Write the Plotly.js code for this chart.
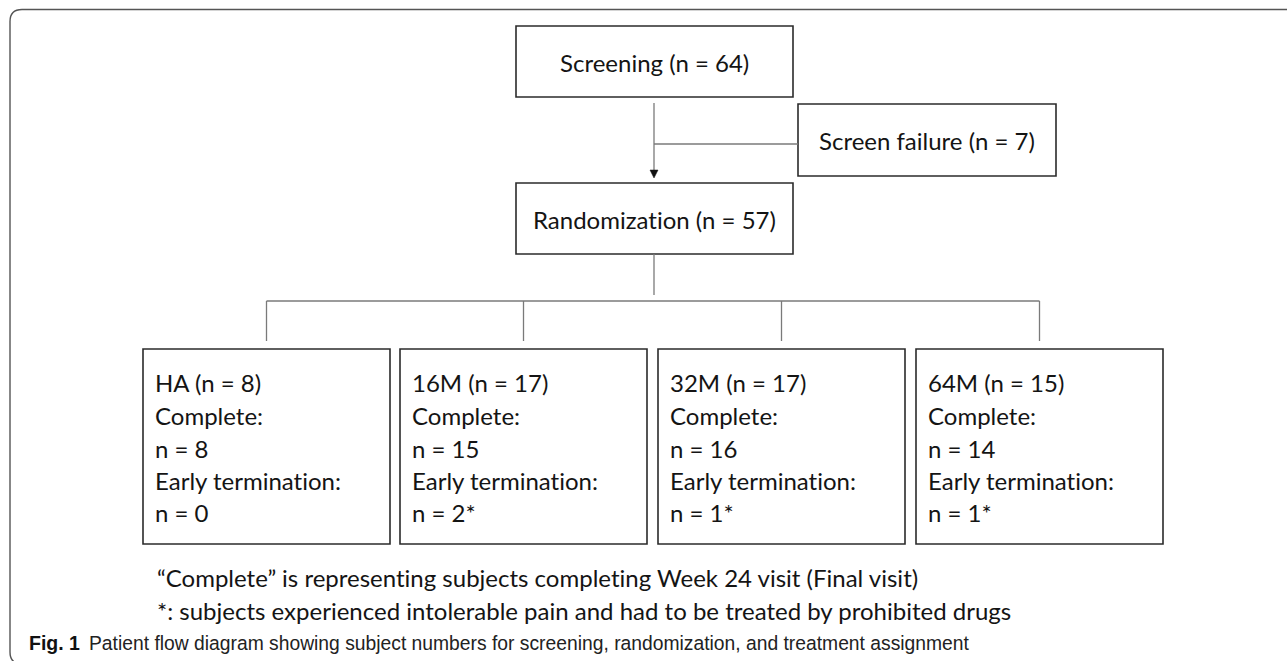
<!DOCTYPE html>
<html>
<head>
<meta charset="utf-8">
<script src="https://cdn.plot.ly/plotly-3.0.1.min.js"></script>
<style>
html,body{margin:0;padding:0;background:#fff;}
#chart{width:1287px;height:661px;}
svg text, svg tspan{font-variant-ligatures:none !important;font-feature-settings:"liga" 0, "clig" 0, "dlig" 0 !important;}
</style>
</head>
<body>
<div id="chart"></div>
<script>
// ---- data ----
const screeningN = 64;
const screenFailureN = 7;
const randomizationN = 57;
const groups = ["HA", "16M", "32M", "64M"];
const groupN = [8, 17, 17, 15];
const completeN = [8, 15, 16, 14];
const earlyN = [0, 2, 1, 1];
const earlyMark = ["", "*", "*", "*"];
const noteLines = [
  "\u201CComplete\u201D is representing subjects completing Week 24 visit (Final visit)",
  "*: subjects experienced intolerable pain and had to be treated by prohibited drugs"
];
const figLabel = "Fig. 1";
const figCaption = "Patient flow diagram showing subject numbers for screening, randomization, and treatment assignment";

// ---- drawing ----
const W = 1287, H = 661;
const MAIN_FONT = "Lato, 'Liberation Sans', sans-serif";
const CAP_FONT = "'Liberation Sans', Arial, sans-serif";
const fs = 24;
const boxLine = {color: "#2b2b2b", width: 1.6};
const connLine = {color: "#7a7a7a", width: 1.3};

const shapes = [];
const annotations = [];

function rect(x0, y0, x1, y1) {
  shapes.push({type: "rect", xref: "x", yref: "y", x0, y0, x1, y1, line: boxLine, fillcolor: "rgba(0,0,0,0)"});
}
function line(x0, y0, x1, y1, l) {
  shapes.push({type: "line", xref: "x", yref: "y", x0, y0, x1, y1, line: l || connLine});
}
function text(x, y, t, opts) {
  annotations.push(Object.assign({
    xref: "x", yref: "y", x, y, text: t, showarrow: false,
    xanchor: "center", yanchor: "middle",
    font: {family: MAIN_FONT, size: fs, color: "#141414"}
  }, opts || {}));
}

// outer frame (rounded left corners, open to the right)
shapes.push({type: "path", xref: "x", yref: "y",
  path: "M 1300,9.5 L 22,9.5 Q 10,9.5 10,21.5 L 10,652 Q 10,664 22,664 L 1300,664",
  line: {color: "#555555", width: 1.4}});

// top boxes
const cx = 654.5;
rect(516, 26, 793, 97);
text(cx, 62, "Screening (n = " + screeningN + ")");
rect(798, 104, 1056, 176);
text(927, 140, "Screen failure (n = " + screenFailureN + ")");
rect(516, 183, 793, 254);
text(cx, 219, "Randomization (n = " + randomizationN + ")");

// connectors
line(654, 103, 654, 172);
line(654, 144, 798, 144);
shapes.push({type: "path", xref: "x", yref: "y", path: "M 650,170 L 658,170 L 654,178 Z",
  fillcolor: "#111", line: {color: "#111", width: 0.5}});
line(654, 254, 654, 295);

// group boxes
const boxX0 = [143, 400, 658, 916];
const boxW = 247;
const stubX = boxX0.map(x => x + boxW / 2);
line(stubX[0], 301, stubX[stubX.length - 1], 301);
const lineY = [382, 415, 448, 480, 512];
groups.forEach((g, i) => {
  line(stubX[i], 301, stubX[i], 341);
  rect(boxX0[i], 349, boxX0[i] + boxW, 544);
  const lines = [
    g + " (n = " + groupN[i] + ")",
    "Complete:",
    "n = " + completeN[i],
    "Early termination:",
    "n = " + earlyN[i] + earlyMark[i]
  ];
  lines.forEach((t, k) => text(boxX0[i] + 10, lineY[k], t, {xanchor: "left"}));
});

// notes
text(155, 577, noteLines[0], {xanchor: "left"});
text(155, 610, noteLines[1], {xanchor: "left"});

// figure caption
text(27, 643, "<b>" + figLabel + "</b>", {xanchor: "left", font: {family: CAP_FONT, size: 19.5, color: "#111"}});
text(87, 643, figCaption, {xanchor: "left", font: {family: CAP_FONT, size: 19.3, color: "#222"}});

const layout = {
  width: W, height: H,
  margin: {l: 0, r: 0, t: 0, b: 0, pad: 0},
  paper_bgcolor: "#fff", plot_bgcolor: "#fff",
  xaxis: {range: [0, W], visible: false, fixedrange: true},
  yaxis: {range: [H, 0], visible: false, fixedrange: true},
  showlegend: false,
  shapes, annotations
};
Plotly.newPlot("chart", [], layout, {displayModeBar: false, staticPlot: true});
</script>
</body>
</html>
